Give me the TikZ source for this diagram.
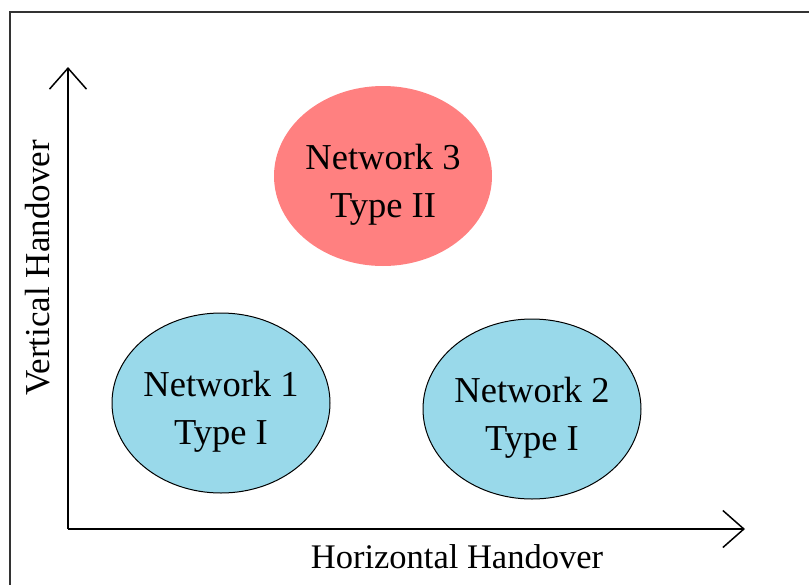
\documentclass[tikz,border=0pt]{standalone}
\usepackage{fontspec}
\setmainfont{Liberation Serif}
\usetikzlibrary{shapes.geometric,arrows.meta}
\definecolor{netred}{RGB}{255,128,128}
\definecolor{netblue}{RGB}{153,217,234}

\begin{document}
\begin{tikzpicture}[x=1pt, y=-1pt,
  net/.style = {ellipse, minimum width=218pt, minimum height=180pt, inner sep=0pt},
  nettext/.style = {align=center, yshift=-9pt, font=\fontsize{36.5}{48}\selectfont},
  axis/.style = {line width=1.5pt, -{Straight Barb[length=21pt, width=37pt, line width=1.5pt]}}]

\useasboundingbox (0, 0) rectangle (809, 584);
\draw[line width=2pt, black!80] (10, 12) rectangle (830, 600);

\coordinate (O) at (68, 529);
\coordinate (Ytip) at (68, 67);
\coordinate (Xtip) at (745, 529);

\draw[axis] (O) -- (Ytip);
\draw[axis] (O) -- (Xtip);

\node[net, fill=netred, label={[nettext]center:Network 3\\Type II}] (N3) at (383, 176) {};
\node[net, draw, line width=1pt, fill=netblue, label={[nettext]center:Network 1\\Type I}] (N1) at (221, 403) {};
\node[net, draw, line width=1pt, fill=netblue, label={[nettext]center:Network 2\\Type I}] (N2) at (532, 409) {};

\node[font=\fontsize{34.5}{40}\selectfont] (XL) at (457, 557) {Horizontal Handover};
\node[font=\fontsize{35}{40}\selectfont, rotate=90] (YL) at (38, 268) {Vertical Handover};

\end{tikzpicture}
\end{document}
